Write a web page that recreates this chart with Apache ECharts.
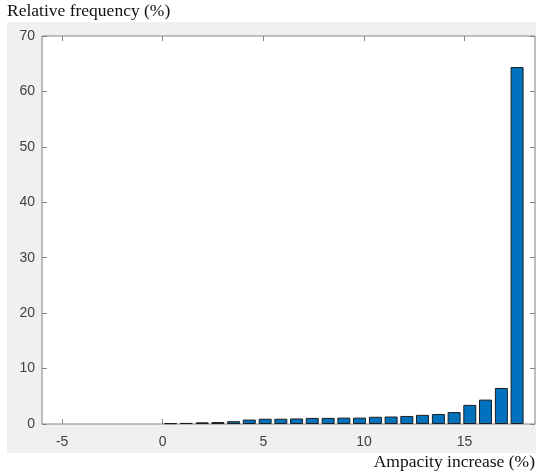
<!DOCTYPE html>
<html>
<head>
<meta charset="utf-8">
<script src="https://cdn.jsdelivr.net/npm/echarts@6/dist/echarts.min.js"></script>
<style>
  html, body { margin: 0; padding: 0; background: #fff; }
  #main { width: 536px; height: 474px; }
</style>
</head>
<body>
<div id="main"></div>
<script>
// bin centres (0..18 split into 23 bins) and relative frequency (%)
var binCenters = [0.39, 1.17, 1.96, 2.74, 3.52, 4.30, 5.09, 5.87, 6.65, 7.43, 8.22, 9.00,
  9.78, 10.57, 11.35, 12.13, 12.91, 13.70, 14.48, 15.26, 16.04, 16.83, 17.61];
var frequency = [0.15, 0.2, 0.3, 0.35, 0.5, 0.8, 0.95, 0.95, 1.0, 1.1, 1.1, 1.15,
  1.15, 1.3, 1.35, 1.45, 1.65, 1.8, 2.15, 3.45, 4.4, 6.5, 64.4];
var xTicks = [-5, 0, 5, 10, 15];
var yTicks = [0, 10, 20, 30, 40, 50, 60, 70];

var chart = echarts.init(document.getElementById('main'));

var axisGray = '#858585';
var labelStyle = {
  color: '#404040',
  fontFamily: 'Liberation Sans, Arial, sans-serif',
  fontSize: 14
};
var serifFont = '17.5px "Liberation Serif", "Times New Roman", serif';

var barData = binCenters.map(function (x, i) {
  return [x, frequency[i]];
});

function xAxisDef(pos, showLabel) {
  return {
    type: 'value',
    position: pos,
    min: -6,
    max: 18.5,
    splitLine: { show: false },
    axisLine: { show: false, onZero: false },
    axisTick: {
      inside: true,
      length: 5,
      customValues: xTicks,
      lineStyle: { color: axisGray }
    },
    axisLabel: Object.assign({
      show: showLabel,
      margin: 11,
      customValues: xTicks
    }, labelStyle)
  };
}

function yAxisDef(pos, showLabel) {
  return {
    type: 'value',
    position: pos,
    min: 0,
    max: 70,
    interval: 10,
    splitLine: { show: false },
    axisLine: { show: false, onZero: false },
    axisTick: {
      inside: true,
      length: 5,
      customValues: yTicks,
      lineStyle: { color: axisGray }
    },
    axisLabel: Object.assign({
      show: showLabel,
      margin: 7,
      customValues: yTicks
    }, labelStyle)
  };
}

var option = {
  backgroundColor: '#ffffff',
  animation: false,
  graphic: [
    {
      type: 'rect',
      z: -10,
      shape: { x: 7, y: 22, width: 529, height: 431 },
      style: { fill: '#f0f0f0' }
    },
    {
      type: 'text',
      left: 7,
      top: 2,
      style: {
        text: 'Relative frequency (%)',
        fill: '#111',
        font: serifFont
      }
    },
    {
      type: 'text',
      right: 1,
      top: 453,
      style: {
        text: 'Ampacity increase (%)',
        fill: '#111',
        font: serifFont
      }
    }
  ],
  grid: {
    left: 42,
    top: 36,
    width: 493,
    height: 388,
    show: true,
    backgroundColor: '#ffffff',
    borderColor: axisGray,
    borderWidth: 1
  },
  xAxis: [xAxisDef('bottom', true), xAxisDef('top', false)],
  yAxis: [yAxisDef('left', true), yAxisDef('right', false)],
  series: [{
    type: 'bar',
    xAxisIndex: 0,
    yAxisIndex: 0,
    data: barData,
    barWidth: 13,
    itemStyle: {
      color: '#0072BD',
      borderColor: '#1e1e1e',
      borderWidth: 1
    }
  }]
};

chart.setOption(option);
</script>
</body>
</html>
